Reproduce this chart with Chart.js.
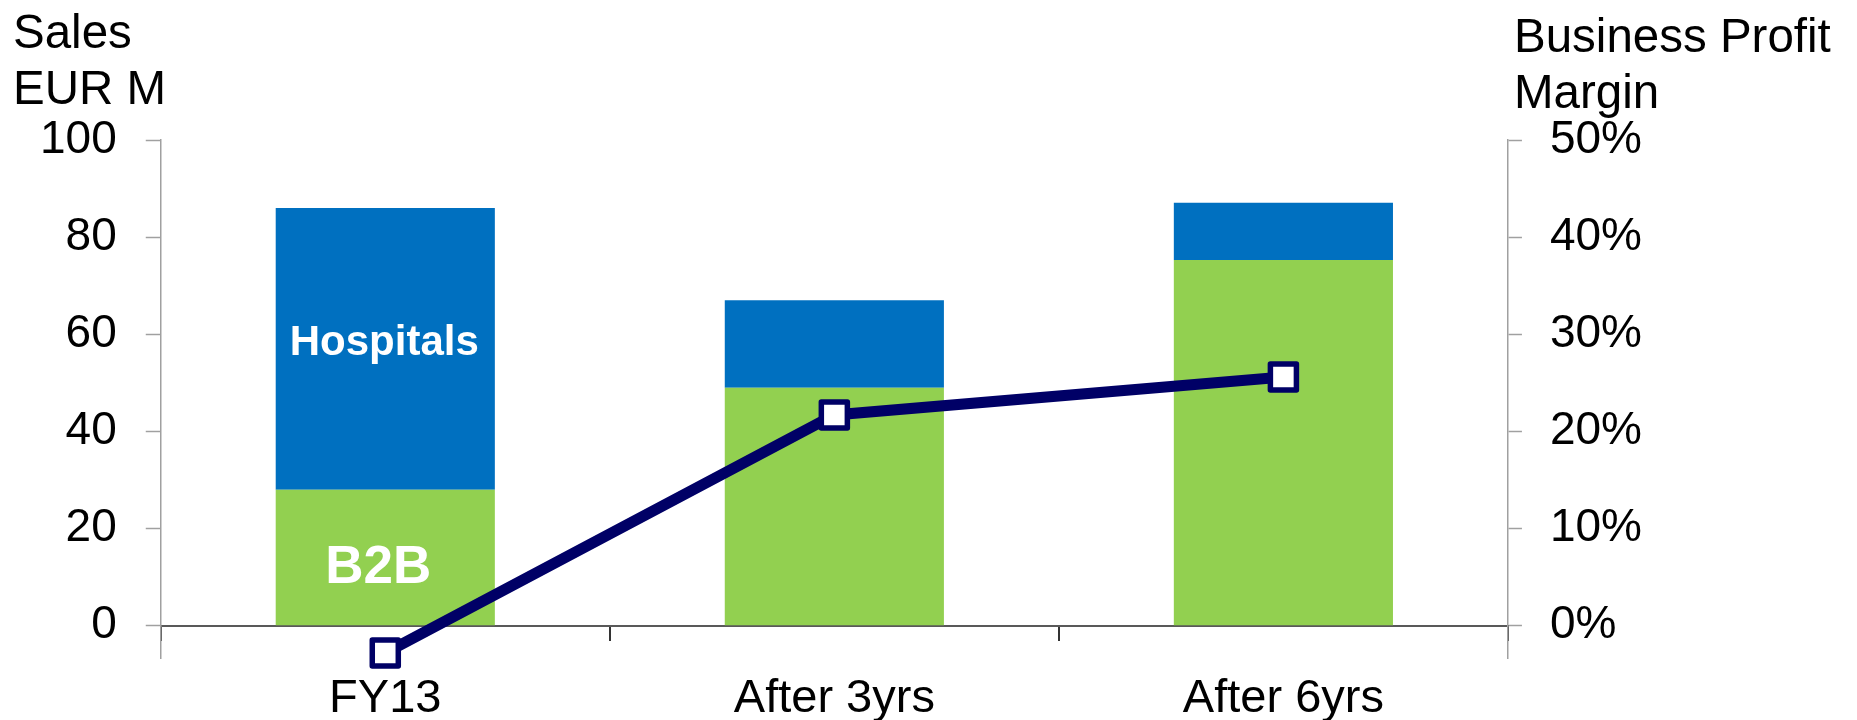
<!DOCTYPE html>
<html>
<head>
<meta charset="utf-8">
<script src="https://cdn.jsdelivr.net/npm/chart.js@4"></script>
<style>
html,body{margin:0;padding:0;background:#ffffff;}
#wrap{width:1857px;height:720px;position:relative;}
</style>
</head>
<body>
<div id="wrap"><canvas id="c" width="1857" height="720"></canvas></div>
<script>
// ---- data ----
const categories = ['FY13', 'After 3yrs', 'After 6yrs'];
const b2bSales = [28, 49, 75.3];
const hospitalSales = [58, 18, 11.8];
const profitMargin = [-2.8, 21.7, 25.6];
const salesTicks = [0, 20, 40, 60, 80, 100];
const marginTicks = [0, 10, 20, 30, 40, 50];
const leftTitle = ['Sales', 'EUR M'];
const rightTitle = ['Business Profit', 'Margin'];
const segmentTexts = ['Hospitals', 'B2B'];

// ---- styling / layout ----
const FONT = "'Liberation Sans', Arial, Helvetica, sans-serif";
const GREEN = '#92D050';
const BLUE = '#0070C0';
const NAVY = '#000066';
const salesMin = -6.65, salesMax = 100;
const marginMin = -3.325, marginMax = 50;

const titlePlugin = {
  id: 'titles',
  afterDraw(chart) {
    const ctx = chart.ctx;
    ctx.save();
    ctx.fillStyle = '#000';
    ctx.font = '47.5px ' + FONT;
    ctx.textAlign = 'left';
    ctx.textBaseline = 'alphabetic';
    ctx.fillText(leftTitle[0], 13, 48);
    ctx.fillText(leftTitle[1], 13, 104);
    ctx.fillText(rightTitle[0], 1514, 52);
    ctx.fillText(rightTitle[1], 1514, 108);
    ctx.restore();
  }
};

const segmentLabelPlugin = {
  id: 'segLabels',
  afterDatasetsDraw(chart) {
    const ctx = chart.ctx;
    const bar = chart.getDatasetMeta(1).data[0];
    const y = chart.scales.y;
    ctx.save();
    ctx.fillStyle = '#fff';
    ctx.textAlign = 'center';
    ctx.textBaseline = 'middle';
    ctx.font = 'bold 42px ' + FONT;
    ctx.fillText(segmentTexts[0], bar.x - 1, y.getPixelForValue(b2bSales[0] + hospitalSales[0] * 0.518));
    ctx.font = 'bold 53px ' + FONT;
    ctx.fillText(segmentTexts[1], bar.x - 7, y.getPixelForValue(b2bSales[0] * 0.42));
    ctx.restore();
  }
};

const roundJoinPlugin = {
  id: 'roundJoin',
  beforeDatasetDraw(chart, args) {
    if (args.meta.type === 'line') chart.ctx.lineJoin = 'round';
  },
  afterDatasetDraw(chart) { chart.ctx.lineJoin = 'miter'; }
};

new Chart(document.getElementById('c'), {
  type: 'bar',
  data: {
    labels: categories,
    datasets: [
      {
        type: 'line',
        label: 'Business Profit Margin',
        data: profitMargin,
        yAxisID: 'y1',
        borderColor: NAVY,
        borderWidth: 11,
        tension: 0,
        pointStyle: 'rect',
        pointRadius: 18.4,
        pointHoverRadius: 18.4,
        pointBackgroundColor: '#ffffff',
        pointBorderColor: NAVY,
        pointBorderWidth: 5.5,
        clip: false,
        order: 0
      },
      {
        label: 'B2B',
        data: b2bSales,
        backgroundColor: GREEN,
        yAxisID: 'y',
        stack: 's',
        order: 1,
        barPercentage: 0.488,
        categoryPercentage: 1
      },
      {
        label: 'Hospitals',
        data: hospitalSales,
        backgroundColor: BLUE,
        yAxisID: 'y',
        stack: 's',
        order: 1,
        barPercentage: 0.488,
        categoryPercentage: 1
      }
    ]
  },
  options: {
    responsive: false,
    maintainAspectRatio: false,
    devicePixelRatio: 1,
    animation: false,
    layout: { padding: { left: 11, right: 187, top: 140, bottom: 62 } },
    plugins: { legend: { display: false }, tooltip: { enabled: false }, title: { display: false } },
    scales: {
      x: {
        stacked: true,
        position: { y: 0 },
        offset: true,
        grid: {
          offset: true,
          drawOnChartArea: false,
          drawTicks: true,
          tickLength: 14,
          tickColor: '#333333',
          tickWidth: 2,
          color: '#333333',
          lineWidth: 2
        },
        border: { display: true, color: '#595959', width: 2 },
        ticks: { color: '#000', font: { family: FONT, size: 47 }, padding: 31, maxRotation: 0, autoSkip: false }
      },
      y: {
        type: 'linear',
        position: 'left',
        stacked: true,
        min: salesMin,
        max: salesMax,
        afterBuildTicks: (scale) => { scale.ticks = salesTicks.map(v => ({ value: v })); },
        grid: {
          drawOnChartArea: false,
          drawTicks: true,
          tickLength: 15,
          tickColor: '#a0a0a0',
          tickWidth: 1.5
        },
        border: { display: true, color: '#a0a0a0', width: 1.5 },
        ticks: { color: '#000', font: { family: FONT, size: 46 }, padding: 29 }
      },
      y1: {
        type: 'linear',
        position: 'right',
        stacked: false,
        min: marginMin,
        max: marginMax,
        afterBuildTicks: (scale) => { scale.ticks = marginTicks.map(v => ({ value: v })); },
        grid: {
          drawOnChartArea: false,
          drawTicks: true,
          tickLength: 14,
          tickColor: '#a0a0a0',
          tickWidth: 1.5
        },
        border: { display: true, color: '#a0a0a0', width: 1.5 },
        ticks: {
          color: '#000',
          font: { family: FONT, size: 46 },
          padding: 28,
          callback: (v) => v + '%'
        }
      }
    }
  },
  plugins: [titlePlugin, segmentLabelPlugin, roundJoinPlugin]
});
</script>
</body>
</html>
